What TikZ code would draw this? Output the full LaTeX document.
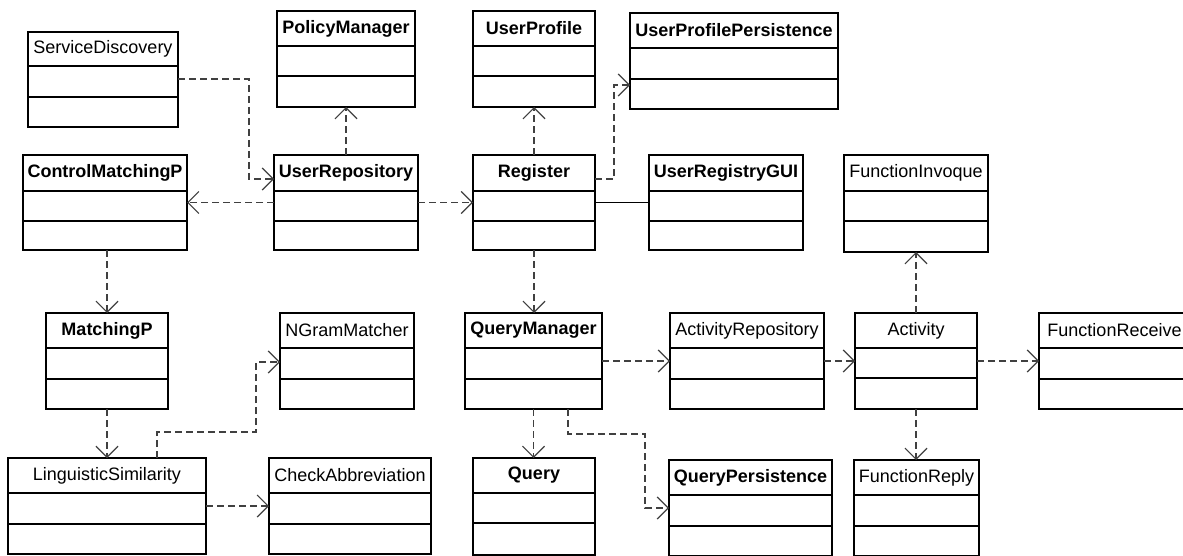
\documentclass[tikz,border=0pt]{standalone}
\usepackage{fontspec}
\setmainfont{Liberation Sans}
\usetikzlibrary{arrows.meta}
\tikzset{
  clsbox/.style={draw=black, line width=1.8pt, inner sep=0pt, outer sep=0pt, anchor=north west, fill=white},
  ttl/.style={inner sep=0pt, font=\fontsize{18}{20}\selectfont},
  boldttl/.style={font=\fontsize{18}{20}\selectfont\bfseries},
  divider/.style={draw=black, line width=1.8pt},
  dep/.style={draw=black!75, line width=1.2pt, dash pattern=on 7pt off 4pt,
    -{Straight Barb[length=11pt,width=22pt,line width=1.2pt]}},
  assoc/.style={draw=black, line width=1.3pt}
}
\newcommand{\umlcls}[9]{%
  \node[clsbox, minimum width={#4-#2}, minimum height={#5-#3}] (#1) at (#2,#3) {};
  \node[ttl,#9] (#1-t) at ({(#2+#4)/2},{(#3+#6)/2}) {#8};
  \draw[divider] (#1.west |- 0,#6) -- (#1.east |- 0,#6);
  \draw[divider] (#1.west |- 0,#7) -- (#1.east |- 0,#7);
}
\begin{document}
\begin{tikzpicture}[x=1pt,y=-1pt]
\useasboundingbox (0,0) rectangle (1183,556);
\clip (0,0) rectangle (1183,556);
% classes
\umlcls{sd}{28}{32}{178}{127}{66}{97}{ServiceDiscovery}{}
\umlcls{pm}{277}{11}{415}{107}{46}{76}{PolicyManager}{boldttl}
\umlcls{up}{473}{11}{595}{107}{46}{76}{UserProfile}{boldttl}
\umlcls{upp}{630}{13}{838}{109}{48}{79}{UserProfilePersistence}{boldttl}
\umlcls{cmp}{23}{155}{187}{250}{191}{221}{ControlMatchingP}{boldttl}
\umlcls{ur}{274}{155}{418}{250}{191}{221}{UserRepository}{boldttl}
\umlcls{reg}{473}{155}{595}{250}{191}{221}{Register}{boldttl}
\umlcls{gui}{649}{155}{803}{250}{191}{221}{UserRegistryGUI}{boldttl}
\umlcls{fi}{844}{155}{988}{252}{191}{221}{FunctionInvoque}{}
\umlcls{mp}{46}{313}{168}{409}{348}{379}{MatchingP}{boldttl}
\umlcls{ng}{280}{313}{414}{409}{348}{379}{NGramMatcher}{}
\umlcls{qm}{465}{313}{602}{409}{348}{379}{QueryManager}{boldttl}
\umlcls{ar}{670}{313}{824}{409}{348}{379}{ActivityRepository}{}
\umlcls{act}{855}{313}{977}{409}{348}{378}{Activity}{}
\umlcls{fr}{1039}{313}{1190}{409}{348}{379}{FunctionReceive}{}
\umlcls{ls}{8}{458}{206}{554}{493}{524}{LinguisticSimilarity}{}
\umlcls{ca}{269}{458}{431}{554}{493}{524}{CheckAbbreviation}{}
\umlcls{q}{473}{458}{595}{555}{493}{523}{Query}{boldttl}
\umlcls{qp}{669}{460}{832}{556}{495}{526}{QueryPersistence}{boldttl}
\umlcls{frp}{854}{460}{979}{556}{495}{526}{FunctionReply}{}
% connectors
\draw[dep] (sd.east |- 0,79) -- (249,79) -- (249,179) -- (ur.west |- 0,179);
\draw[dep] (ur.north) -- (ur.north |- pm.south);
\draw[dep] (ur.west) -- (cmp.east);
\draw[dep] (ur.east) -- (reg.west);
\draw[dep] (reg.north) -- (reg.north |- up.south);
\draw[dep] (reg.east |- 0,179) -- (614,179) -- (614,85) -- (upp.west |- 0,85);
\draw[assoc] (reg.east) -- (gui.west);
\draw[dep] (reg.south) -- (reg.south |- qm.north);
\draw[dep] (mp.north |- cmp.south) -- (mp.north);
\draw[dep] (mp.south) -- (mp.south |- ls.north);
\draw[dep] (ls.north -| 157,0) -- (157,432) -- (256,432) -- (256,362) -- (ng.west |- 0,362);
\draw[dep] (ls.east) -- (ca.west);
\draw[dep] (qm.east) -- (ar.west);
\draw[dep] (qm.south) -- (qm.south |- q.north);
\draw[dep] (qm.south -| 568,0) -- (568,434) -- (645,434) -- (645,508) -- (qp.west |- 0,508);
\draw[dep] (ar.east) -- (act.west);
\draw[dep] (act.north) -- (act.north |- fi.south);
\draw[dep] (act.east) -- (act.east -| fr.west);
\draw[dep] (act.south) -- (act.south |- frp.north);
\end{tikzpicture}
\end{document}
